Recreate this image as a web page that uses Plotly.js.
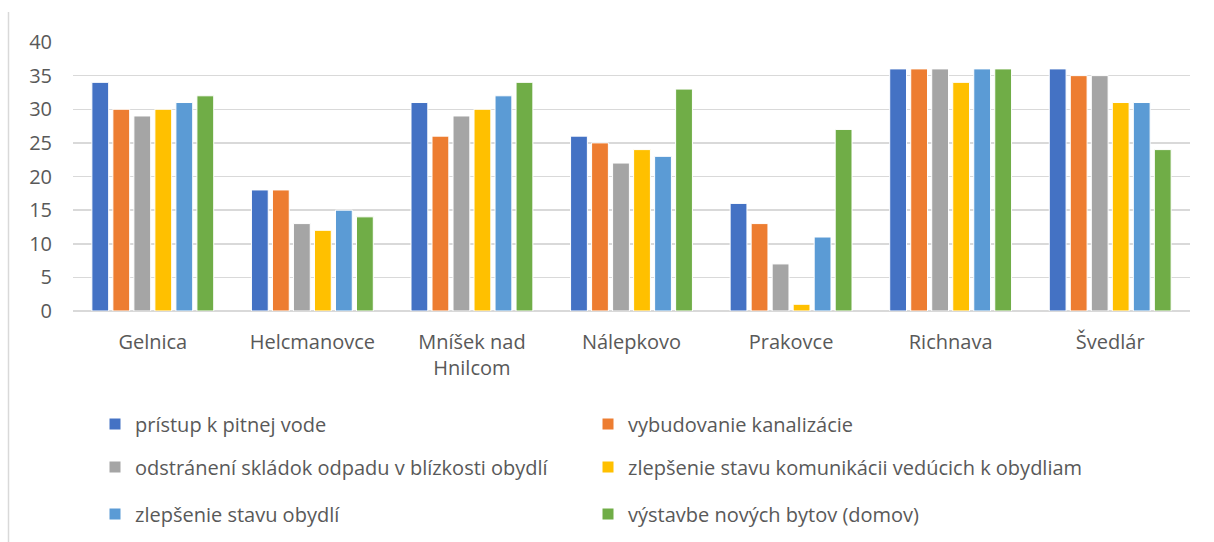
<!DOCTYPE html>
<html><head><meta charset="utf-8">
<script src="https://cdn.plot.ly/plotly-3.0.1.min.js"></script>
<style>html,body{margin:0;padding:0;background:#fff}#chart{width:1214px;height:542px}</style>
</head><body><div id="chart"></div>
<script>
const categories = ["Gelnica","Helcmanovce","Mníšek nad<br>Hnilcom","Nálepkovo","Prakovce","Richnava","Švedlár"];
const seriesNames = ["prístup k pitnej vode","vybudovanie kanalizácie","odstránení skládok odpadu v blízkosti obydlí","zlepšenie stavu komunikácii vedúcich k obydliam","zlepšenie stavu obydlí","výstavbe nových bytov (domov)"];
const pristup = [34,18,31,26,16,36,36];
const kanalizacia = [30,18,26,25,13,36,35];
const skladky = [29,13,29,22,7,36,35];
const komunikacie = [30,12,30,24,1,34,31];
const obydlia = [31,15,32,23,11,36,31];
const byty = [32,14,34,33,27,36,24];
const yTicks = [0,5,10,15,20,25,30,35,40];
const colors = ["#4472C4","#ED7D31","#A5A5A5","#FFC000","#5B9BD5","#70AD47"];
const allSeries = [pristup,kanalizacia,skladky,komunikacie,obydlia,byty];
const legendIds = ["legend","legend","legend2","legend2","legend3","legend3"];
const font = "'Open Sans', sans-serif";

const traces = allSeries.map((vals,i)=>({
  type:"bar", x:categories, y:vals, name:seriesNames[i],
  marker:{color:colors[i], line:{color:"#ffffff", width:1}},
  legend:legendIds[i], hoverinfo:"y"
}));

const plotTop = 42, plotBottom = 311, plotLeft = 73, plotRight = 1190;
const ph = plotBottom - plotTop, pw = plotRight - plotLeft;
const py = p => (plotBottom - p)/ph;
const px = p => (p - plotLeft)/pw;

const legendBase = {orientation:"h", xanchor:"left", yanchor:"middle", x:px(95),
  entrywidth:448, entrywidthmode:"pixels", font:{family:font, size:20, color:"#595959"},
  bgcolor:"rgba(0,0,0,0)", traceorder:"normal"};

const layout = {
  width:1214, height:542,
  margin:{l:plotLeft, r:1214-plotRight, t:plotTop, b:542-plotBottom, pad:0, autoexpand:false},
  paper_bgcolor:"#fff", plot_bgcolor:"#fff",
  bargap:0.21, bargroupgap:0.2,
  barmode:"group",
  font:{family:font, color:"#595959", size:20},
  xaxis:{tickfont:{family:font, size:20, color:"#595959"}, showgrid:false, showline:false, ticks:"", ticklabelstandoff:17, fixedrange:true, automargin:false},
  yaxis:{range:[0,40], tickvals:yTicks, ticktext:yTicks.map(String), gridcolor:"#d9d9d9", gridwidth:1.5,
    zeroline:true, zerolinecolor:"#d9d9d9", zerolinewidth:1.5, showline:false, ticks:"", ticklabelstandoff:20,
    tickfont:{family:font, size:20, color:"#595959"}, fixedrange:true, automargin:false},
  showlegend:true,
  legend:Object.assign({}, legendBase, {y:py(424)}),
  legend2:Object.assign({}, legendBase, {y:py(467)}),
  legend3:Object.assign({}, legendBase, {y:py(514)}),
  shapes:[{type:"line", xref:"paper", yref:"paper", x0:px(8.5), x1:px(8.5), y0:py(12), y1:py(545), line:{color:"#d9d9d9", width:1.5}}]
};
Plotly.newPlot("chart", traces, layout, {displayModeBar:false, staticPlot:true});
</script></body></html>
